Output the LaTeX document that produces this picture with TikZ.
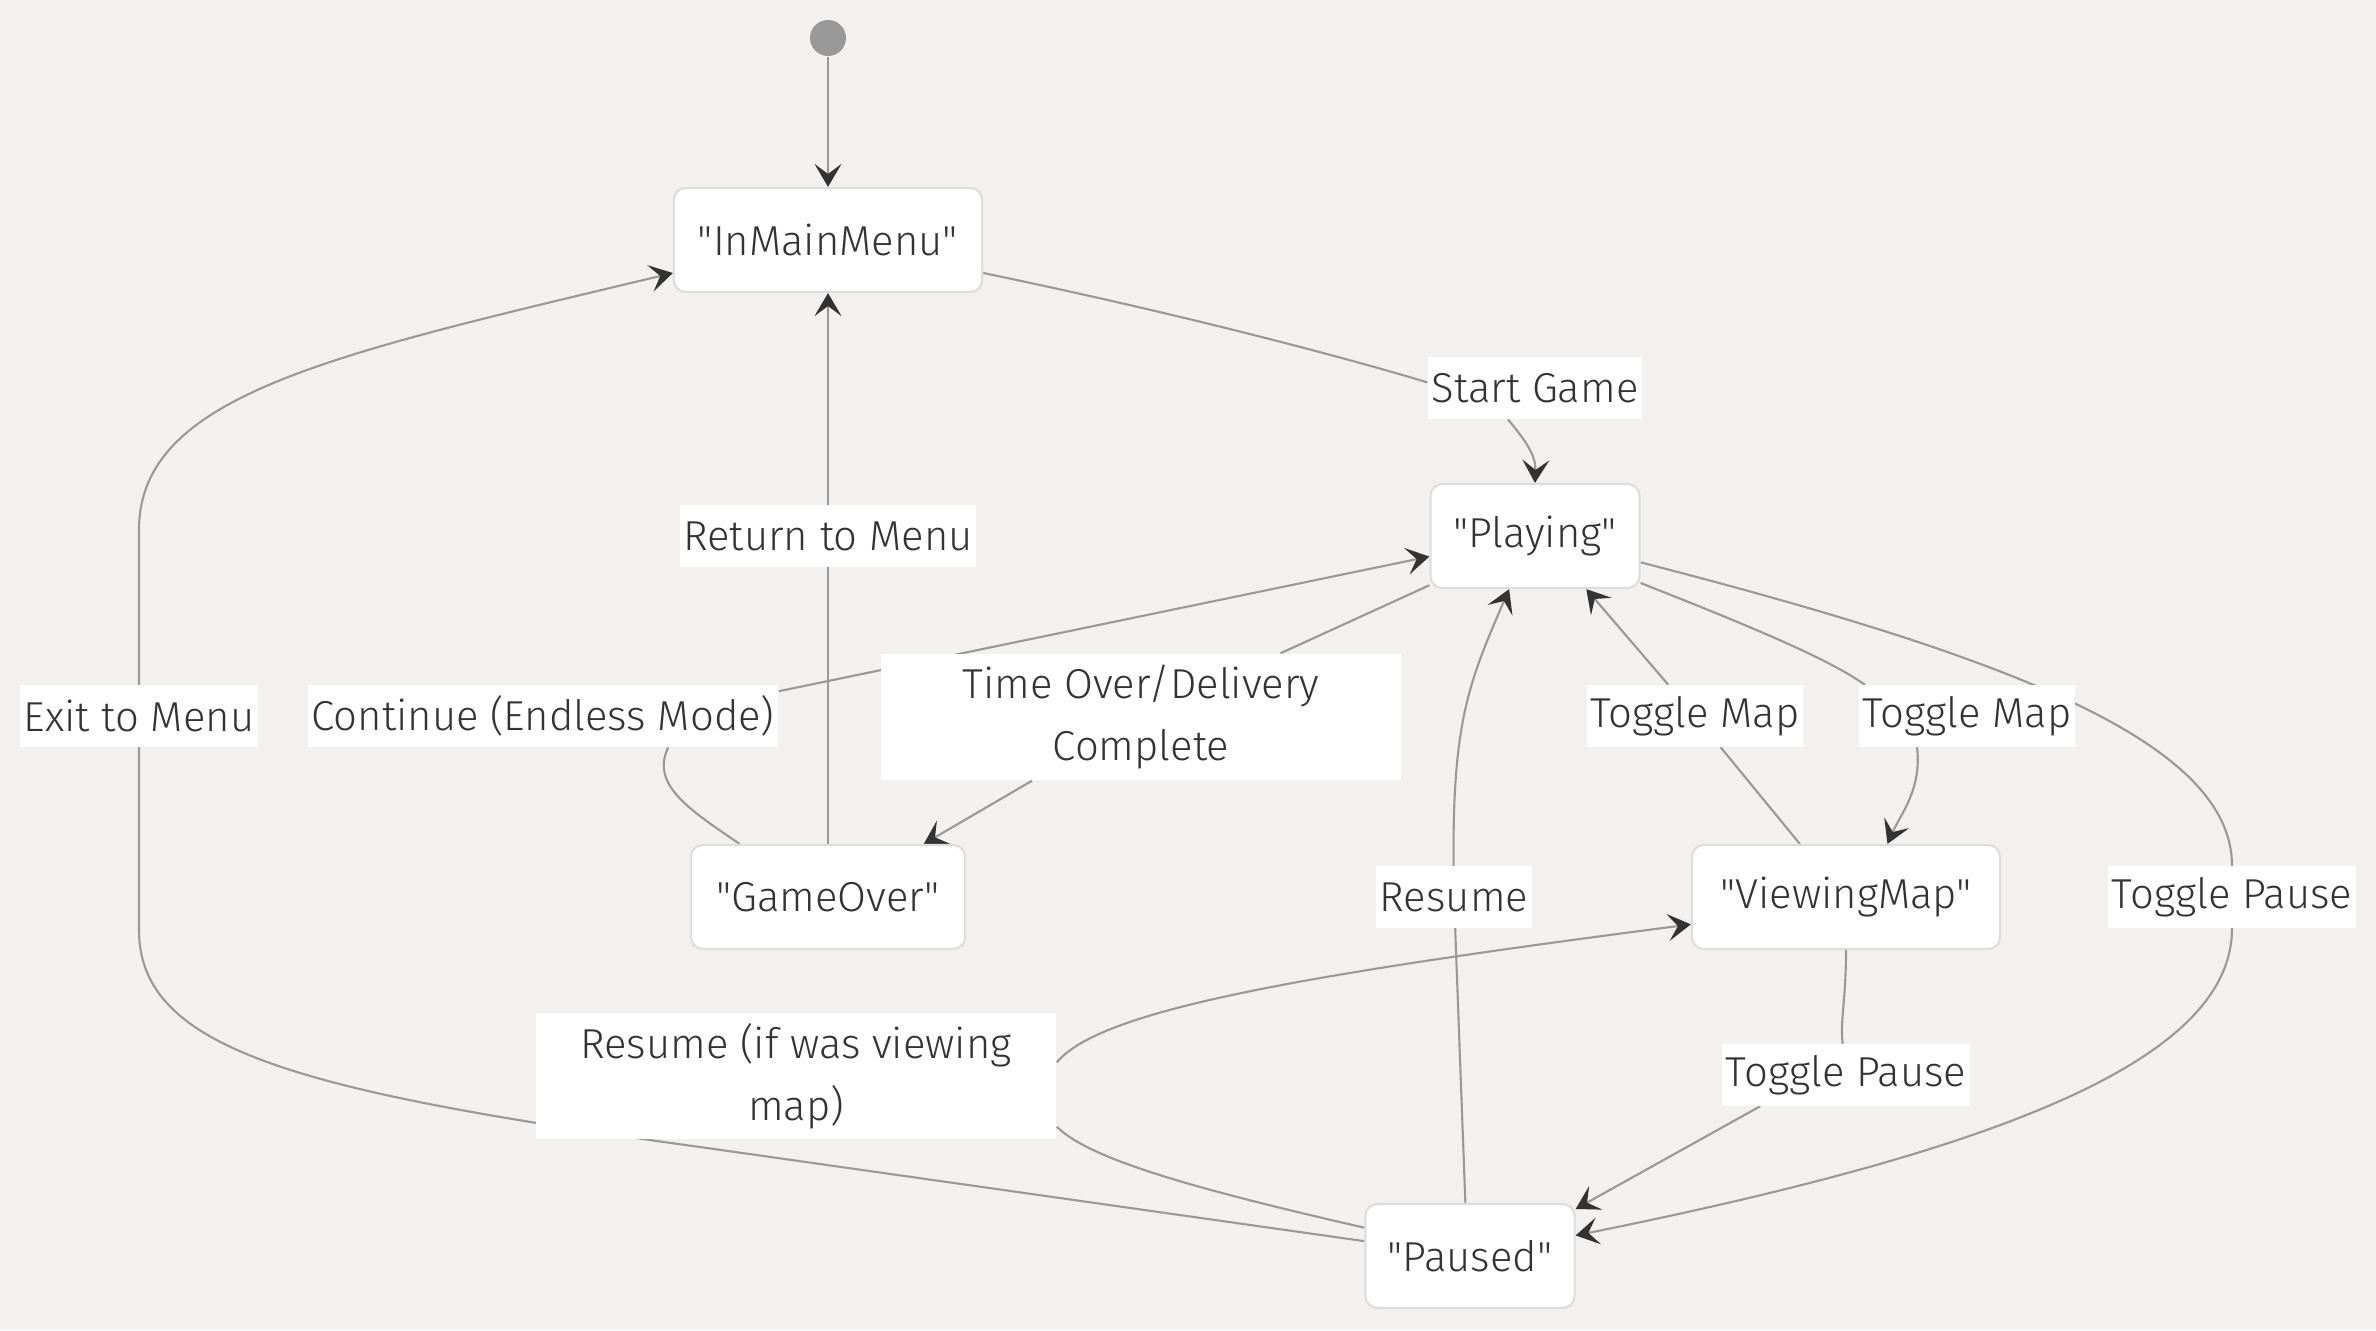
\documentclass[tikz,border=0pt]{standalone}
\usepackage{fontspec}
\setmainfont{Fira Sans}[Ligatures=TeXOff, UprightFont={* Light}]
\usetikzlibrary{arrows.meta}
\definecolor{bgcol}{HTML}{F2F1EF}
\definecolor{edgecol}{HTML}{999999}
\definecolor{tipcol}{HTML}{333333}
\definecolor{txtcol}{HTML}{333333}
\definecolor{boxcol}{HTML}{DDDDDD}
\pgfdeclarelayer{back}
\pgfdeclarelayer{edges}
\pgfsetlayers{back,edges,main}
\tikzstyle{state} = [rectangle, rounded corners=0.12cm, minimum height=1.04cm, inner xsep=0.2cm, fill=white, draw=boxcol, line width=0.6pt, text=txtcol]
\tikzstyle{lbl} = [rectangle, fill=white, minimum height=0.61cm, inner xsep=1pt, inner ysep=0pt, text=txtcol, align=center]
\tikzstyle{lbltwo} = [lbl, minimum height=1.26cm, minimum width=5.2cm]
\tikzstyle{line} = [draw=edgecol, line width=0.6pt]
\tikzstyle{arrow} = [line, -{Stealth[length=0.23cm, width=0.27cm, inset=0.1cm, color=tipcol]}]

\begin{document}
\begin{tikzpicture}[x=0.01cm, y=-0.01cm, font=\fontsize{11.9pt}{17.6pt}\selectfont]
        \begin{pgfonlayer}{back}
        \fill[bgcol] (0,0) rectangle (2376,1330);
        \end{pgfonlayer}
        \useasboundingbox (0,0) rectangle (2376,1330);

        \node (init) [circle, fill=edgecol, minimum size=0.36cm, inner sep=0pt] at (828,38) {};
        \node (mainmenu) [state, minimum width=3.08cm] at (828,240) {"InMainMenu"};
        \node (playing) [state, minimum width=2.09cm] at (1535,536) {"Playing"};
        \node (gameover) [state, minimum width=2.74cm] at (828,897) {"GameOver"};
        \node (viewmap) [state, minimum width=3.08cm] at (1846,897) {"ViewingMap"};
        \node (paused) [state, minimum width=2.09cm] at (1470,1256) {"Paused"};

        \node (startlbl) [lbl] at (1535,388) {Start Game};
        \node (returnlbl) [lbl] at (828,536) {Return to Menu};
        \node (exitlbl) [lbl] at (139,716) {Exit to Menu};
        \node (contlbl) [lbl] at (543,716) {Continue (Endless Mode)};
        \node (timelbl) [lbltwo] at (1141,717) {Time Over/Delivery\\Complete};
        \node (mapbacklbl) [lbl] at (1695,716) {Toggle Map};
        \node (maplbl) [lbl] at (1967,716) {Toggle Map};
        \node (resumelbl) [lbl] at (1454,897) {Resume};
        \node (pauselbl) [lbl] at (2232,897) {Toggle Pause};
        \node (mappauselbl) [lbl] at (1846,1075) {Toggle Pause};
        \node (mapresumelbl) [lbltwo] at (796,1076) {Resume (if was viewing\\map)};

        \begin{pgfonlayer}{edges}
        \draw[arrow] (init) -- (mainmenu);
        % start game
        \draw[line] (mainmenu.-12) .. controls (1200,318) and (1360,362) .. (startlbl.177);
        \draw[arrow] (startlbl.-131) .. controls (1525,440) and (1536,455) .. (playing.north);
        % return to menu
        \draw[line] (gameover) -- (returnlbl);
        \draw[arrow] (returnlbl) -- (mainmenu);
        % exit to menu
        \draw[line] (paused.172) -- (700,1147) .. controls (300,1092) and (139,1050) .. (139,930) -- (exitlbl);
        \draw[arrow] (exitlbl) -- (139,530) .. controls (139,395) and (330,355) .. (mainmenu.192);
        % endless mode
        \draw[line] (gameover.149) .. controls (690,810) and (650,785) .. (contlbl.-14);
        \draw[arrow] (contlbl.6) -- (playing.191);
        % time over
        \draw[line] (playing.205) -- (timelbl);
        \draw[arrow] (timelbl) -- (gameover.29);
        % resume
        \draw[line] (paused.95) -- (resumelbl);
        \draw[arrow] (resumelbl) .. controls (1452,720) and (1470,680) .. (playing.244);
        % map on / off
        \draw[line] (viewmap.131) -- (mapbacklbl);
        \draw[arrow] (mapbacklbl) -- (playing.-46);
        \draw[line] (playing.-24) .. controls (1760,630) and (1830,660) .. (maplbl.163);
        \draw[arrow] (maplbl.212) .. controls (1922,790) and (1900,815) .. (viewmap.52);
        % pause
        \draw[line] (playing.-14) .. controls (2000,655) and (2232,740) .. (pauselbl);
        \draw[arrow] (pauselbl) .. controls (2232,1060) and (2000,1150) .. (paused.11);
        \draw[line] (viewmap) .. controls (1846,1000) and (1840,1020) .. (mappauselbl);
        \draw[arrow] (mappauselbl.200) -- (paused.24);
        \draw[line] (paused.165) .. controls (1200,1190) and (1090,1160) .. (mapresumelbl.-11);
        \draw[arrow] (mapresumelbl.3) .. controls (1100,1010) and (1300,975) .. (viewmap.190);
        \end{pgfonlayer}
\end{tikzpicture}
\end{document}
